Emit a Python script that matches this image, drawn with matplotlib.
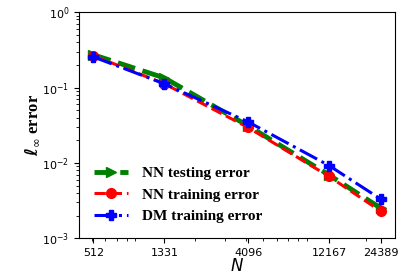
import matplotlib
matplotlib.use('Agg')
import matplotlib.pyplot as plt
from matplotlib.ticker import FixedLocator, FixedFormatter, NullFormatter

# Data
N = [512, 1331, 4096, 12167, 24389]
nn_test = [0.272, 0.134, 0.031, 0.0069, 0.0025]
nn_train = [0.265, 0.112, 0.0295, 0.0066, 0.00228]
dm_train = [0.255, 0.112, 0.035, 0.0092, 0.0033]
tick_labels = ['512', '1331', '4096', '12167', '24389']

fig = plt.figure(figsize=(4.16, 2.77), dpi=100)
ax = fig.add_axes([0.19, 0.14, 0.76, 0.816])

ax.loglog(N, nn_test, '--', color='green', marker='>', lw=3.5, ms=7,
          label='NN testing error')
ax.loglog(N, nn_train, '--', color='red', marker='o', lw=2.2, ms=7,
          label='NN training error')
ax.loglog(N, dm_train, '-.', color='blue', marker='P', lw=2.2, ms=7,
          label='DM training error')

ax.set_ylim(1e-3, 1e0)
ax.xaxis.set_major_locator(FixedLocator(N))
ax.xaxis.set_major_formatter(FixedFormatter(tick_labels))
ax.xaxis.set_minor_formatter(NullFormatter())
ax.tick_params(labelsize=8)

ax.set_xlabel('$N$', fontsize=12, labelpad=-1)
ax.set_ylabel(r'$\boldsymbol{\ell}_\infty$ error', fontsize=12,
              family='Liberation Serif', weight='bold', labelpad=1)

ax.legend(loc='lower left', frameon=False,
          prop={'family': 'Liberation Serif', 'weight': 'bold', 'size': 11},
          handlelength=2.2, handletextpad=0.9, labelspacing=0.5,
          borderaxespad=0.6)

fig.savefig('out.png', dpi=100)
